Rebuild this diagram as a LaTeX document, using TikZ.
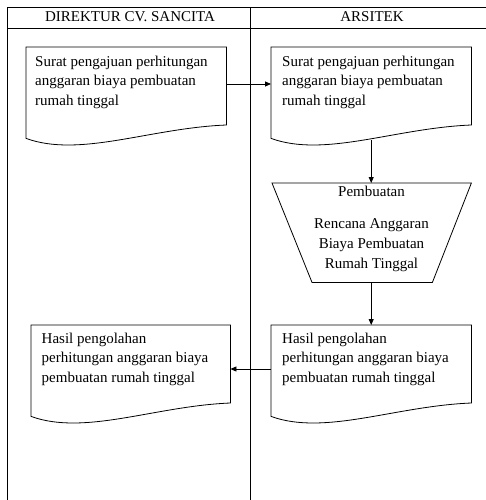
\documentclass[tikz,border=0pt]{standalone}
\usepackage{fontspec}
\setmainfont{Liberation Serif}
\usetikzlibrary{arrows.meta,calc}
\newcommand\docpath[1]{\draw[line, fill=white] (#1.north west) -- (#1.north east) -- ($(#1.north east)+(0,78)$) .. controls ($(#1.north west)+(124,81)$) and ($(#1.north west)+(54,111)$) .. (#1.south west) -- cycle;}
\begin{document}
\begin{tikzpicture}[x=1pt,y=-1pt,
  line/.style={line width=0.8pt, draw=black},
  docbox/.style={rectangle, draw=none, inner sep=0pt, anchor=north west, minimum width=200pt, minimum height=91pt},
  txt/.style={font=\fontsize{15pt}{19.5pt}\selectfont, inner sep=0pt, align=left, anchor=north west},
  hdr/.style={font=\fontsize{15pt}{18pt}\selectfont, inner sep=0pt, anchor=base},
  arr/.style={line, -{Triangle[length=6pt,width=5pt]}}]
\useasboundingbox (0,0) rectangle (486,500);
% frame
\draw[line] (7,500) -- (7,7) -- (486,7);
\draw[line] (7,28) -- (486,28);
\draw[line] (250,7) -- (250,500);
\node[hdr] (h1) at (130,22) {DIREKTUR CV. SANCITA};
\node[hdr] (h2) at (372,22) {ARSITEK};
% documents
\node[docbox] (d1) at (26,47) {};
\node[docbox] (d2) at (271,47) {};
\node[docbox, minimum width=199pt] (d3) at (31,325) {};
\node[docbox] (d4) at (271,325) {};
\docpath{d1}
\docpath{d2}
\docpath{d3}
\docpath{d4}
\node[txt] (t1) at (35,55.75) {Surat pengajuan perhitungan\\anggaran biaya pembuatan\\rumah tinggal};
\node[txt] (t2) at (282,55.75) {Surat pengajuan perhitungan\\anggaran biaya pembuatan\\rumah tinggal};
\node[txt] (t3) at (41.5,332.4) {Hasil pengolahan\\perhitungan anggaran biaya\\pembuatan rumah tinggal};
\node[txt] (t4) at (282,332.4) {Hasil pengolahan\\perhitungan anggaran biaya\\pembuatan rumah tinggal};
% manual operation
\node[rectangle, draw=none, minimum width=199pt, minimum height=99pt, inner sep=0pt, anchor=north west] (p) at (272,183) {};
\draw[line, fill=white] (p.north west) -- (p.north east) -- ($(p.south east)+(-39,0)$) -- ($(p.south west)+(40,0)$) -- cycle;
\node[font=\fontsize{15pt}{20pt}\selectfont, inner sep=0pt, align=center, anchor=north] (pt) at (371.5,185.75) {Pembuatan\\[12pt]Rencana Anggaran\\Biaya Pembuatan\\Rumah Tinggal};
% connectors
\draw[arr] ($(d1.north east)+(0,37)$) -- ($(d2.north west)+(0,37)$);
\draw[arr] ($(d2.south)+(0,1.5)$) -- (d2.south |- p.north);
\draw[arr] (d4.north |- p.south) -- (d4.north);
\draw[arr] ($(d4.north west)+(0,44)$) -- ($(d3.north east)+(0,44)$);
\end{tikzpicture}
\end{document}
